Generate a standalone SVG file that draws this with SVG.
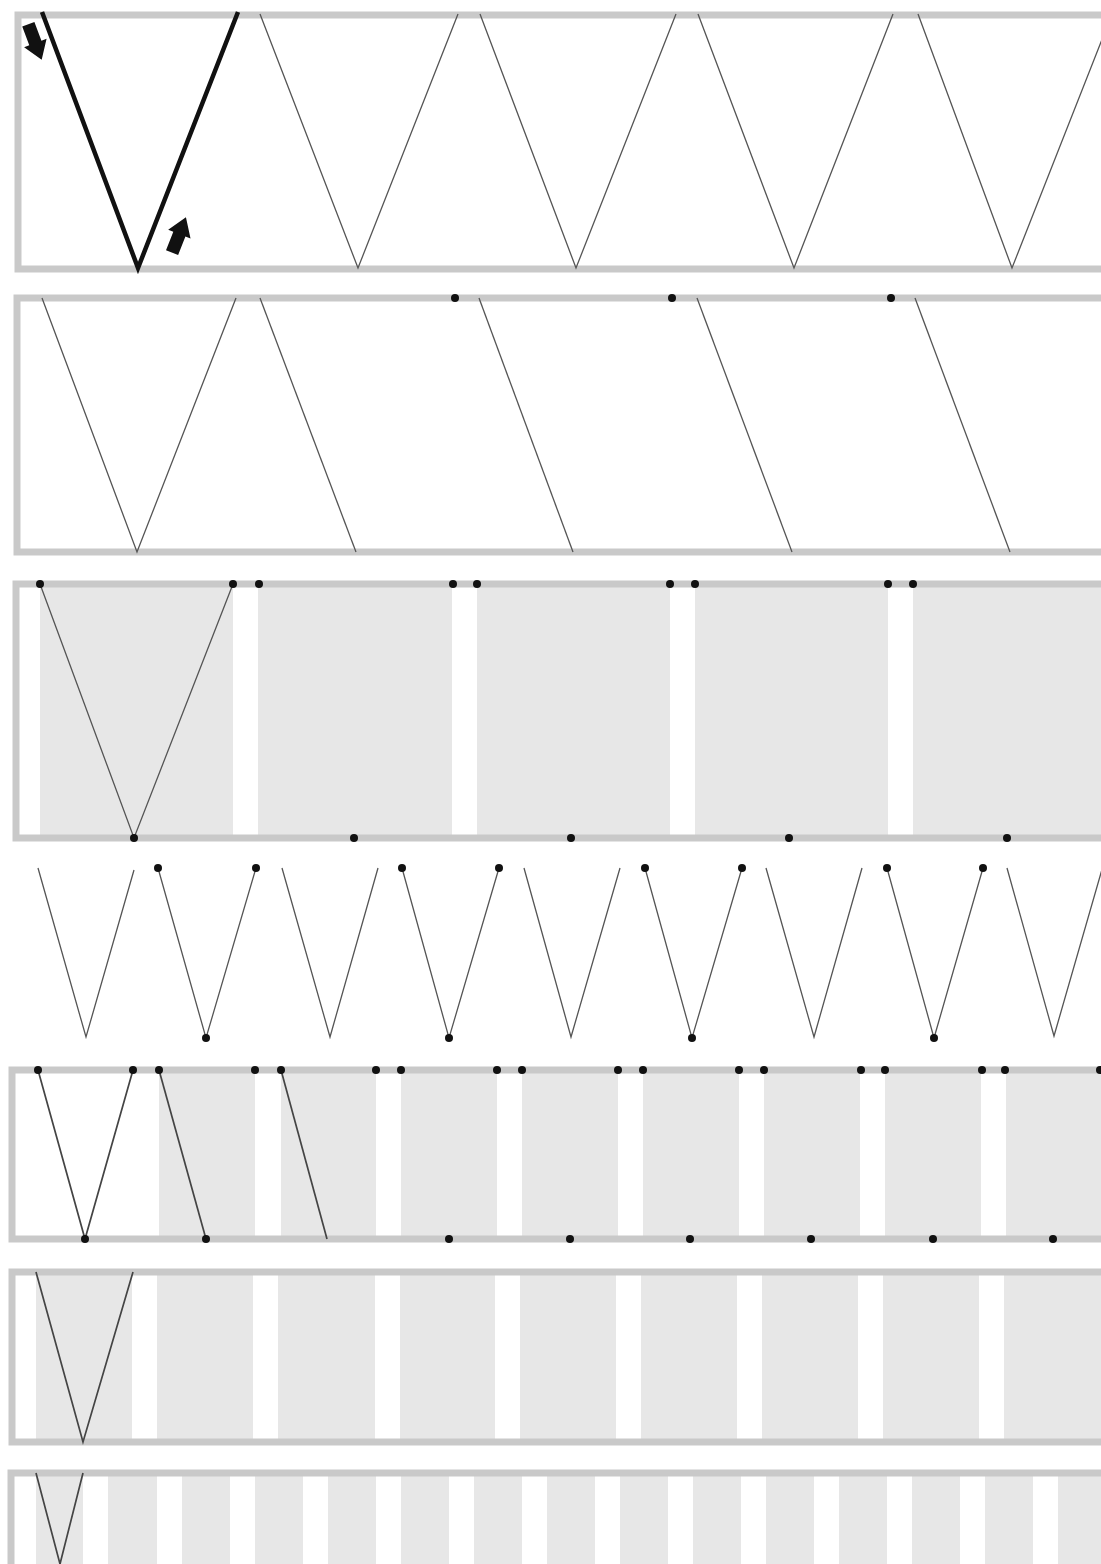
<svg xmlns="http://www.w3.org/2000/svg" width="1101" height="1564" viewBox="0 0 1101 1564">
<style>
.frame{fill:none;stroke:#c9c9c9;stroke-width:7}
.col{fill:#e7e7e7}
.thin{fill:none;stroke:#555;stroke-width:1.3;stroke-linejoin:miter}
.med{fill:none;stroke:#444;stroke-width:1.7}
.bold{fill:none;stroke:#111;stroke-width:4.5}
.dot{fill:#111}
.arrow{fill:#111}
</style>
<defs>
<polygon id="blockArrow" points="-6.5,-19 6.5,-19 6.5,1 12,1 0,19 -12,1 -6.5,1"/>
</defs>
<rect width="1101" height="1564" fill="#fff"/>

<g id="row1">
<rect class="frame" x="18" y="15" width="1110" height="254"/>
<polyline class="bold" points="42,12 138,268 238,12"/>
<polyline class="thin" points="260,14 358,268 458,14"/>
<polyline class="thin" points="480,14 576,268 676,14"/>
<polyline class="thin" points="698,14 794,268 893,14"/>
<polyline class="thin" points="918,14 1012,268 1112,14"/>
<use href="#blockArrow" class="arrow" transform="translate(35,42) rotate(-20.6)"/>
<use href="#blockArrow" class="arrow" transform="translate(179,235) rotate(-158.6)"/>
</g>

<g id="row2">
<rect class="frame" x="17" y="298" width="1110" height="254"/>
<polyline class="thin" points="42,298 137,552 236,298"/>
<line class="thin" x1="260" y1="298" x2="356" y2="552"/>
<line class="thin" x1="479" y1="298" x2="573" y2="552"/>
<line class="thin" x1="697" y1="298" x2="792" y2="552"/>
<line class="thin" x1="915" y1="298" x2="1010" y2="552"/>
<circle class="dot" cx="455" cy="298" r="4"/>
<circle class="dot" cx="672" cy="298" r="4"/>
<circle class="dot" cx="891" cy="298" r="4"/>
</g>

<g id="row3">
<rect class="col" x="40" y="584" width="193" height="254"/>
<rect class="col" x="258" y="584" width="194" height="254"/>
<rect class="col" x="477" y="584" width="193" height="254"/>
<rect class="col" x="695" y="584" width="193" height="254"/>
<rect class="col" x="913" y="584" width="200" height="254"/>
<rect class="frame" x="16" y="584" width="1110" height="254"/>
<polyline class="thin" points="40,584 134,838 233,584"/>
<circle class="dot" cx="40" cy="584" r="4"/>
<circle class="dot" cx="233" cy="584" r="4"/>
<circle class="dot" cx="259" cy="584" r="4"/>
<circle class="dot" cx="453" cy="584" r="4"/>
<circle class="dot" cx="477" cy="584" r="4"/>
<circle class="dot" cx="670" cy="584" r="4"/>
<circle class="dot" cx="695" cy="584" r="4"/>
<circle class="dot" cx="888" cy="584" r="4"/>
<circle class="dot" cx="913" cy="584" r="4"/>
<circle class="dot" cx="134" cy="838" r="4"/>
<circle class="dot" cx="354" cy="838" r="4"/>
<circle class="dot" cx="571" cy="838" r="4"/>
<circle class="dot" cx="789" cy="838" r="4"/>
<circle class="dot" cx="1007" cy="838" r="4"/>
</g>

<g id="row4">
<polyline class="thin" points="38,868 86,1037 134,870"/>
<polyline class="thin" points="158,868 206,1038 256,868"/>
<polyline class="thin" points="282,868 330,1037 378,868"/>
<polyline class="thin" points="402,868 449,1038 499,868"/>
<polyline class="thin" points="524,868 571,1037 620,868"/>
<polyline class="thin" points="645,868 692,1038 742,868"/>
<polyline class="thin" points="766,868 814,1037 862,868"/>
<polyline class="thin" points="887,868 934,1038 983,868"/>
<polyline class="thin" points="1007,868 1054,1036 1103,866"/>
<circle class="dot" cx="158" cy="868" r="4"/>
<circle class="dot" cx="206" cy="1038" r="4"/>
<circle class="dot" cx="256" cy="868" r="4"/>
<circle class="dot" cx="402" cy="868" r="4"/>
<circle class="dot" cx="449" cy="1038" r="4"/>
<circle class="dot" cx="499" cy="868" r="4"/>
<circle class="dot" cx="645" cy="868" r="4"/>
<circle class="dot" cx="692" cy="1038" r="4"/>
<circle class="dot" cx="742" cy="868" r="4"/>
<circle class="dot" cx="887" cy="868" r="4"/>
<circle class="dot" cx="934" cy="1038" r="4"/>
<circle class="dot" cx="983" cy="868" r="4"/>
</g>

<g id="row5">
<rect class="col" x="159" y="1070" width="96" height="169"/>
<rect class="col" x="281" y="1070" width="95" height="169"/>
<rect class="col" x="401" y="1070" width="96" height="169"/>
<rect class="col" x="522" y="1070" width="96" height="169"/>
<rect class="col" x="643" y="1070" width="96" height="169"/>
<rect class="col" x="764" y="1070" width="96" height="169"/>
<rect class="col" x="885" y="1070" width="96" height="169"/>
<rect class="col" x="1006" y="1070" width="100" height="169"/>
<rect class="frame" x="12" y="1070" width="1110" height="169"/>
<polyline class="med" points="38,1070 85,1239 133,1070"/>
<line class="med" x1="159" y1="1070" x2="206" y2="1239"/>
<line class="med" x1="281" y1="1070" x2="327" y2="1239"/>
<circle class="dot" cx="38" cy="1070" r="4"/>
<circle class="dot" cx="133" cy="1070" r="4"/>
<circle class="dot" cx="159" cy="1070" r="4"/>
<circle class="dot" cx="255" cy="1070" r="4"/>
<circle class="dot" cx="281" cy="1070" r="4"/>
<circle class="dot" cx="376" cy="1070" r="4"/>
<circle class="dot" cx="401" cy="1070" r="4"/>
<circle class="dot" cx="497" cy="1070" r="4"/>
<circle class="dot" cx="522" cy="1070" r="4"/>
<circle class="dot" cx="618" cy="1070" r="4"/>
<circle class="dot" cx="643" cy="1070" r="4"/>
<circle class="dot" cx="739" cy="1070" r="4"/>
<circle class="dot" cx="764" cy="1070" r="4"/>
<circle class="dot" cx="861" cy="1070" r="4"/>
<circle class="dot" cx="885" cy="1070" r="4"/>
<circle class="dot" cx="982" cy="1070" r="4"/>
<circle class="dot" cx="1005" cy="1070" r="4"/>
<circle class="dot" cx="1100" cy="1070" r="4"/>
<circle class="dot" cx="85" cy="1239" r="4"/>
<circle class="dot" cx="206" cy="1239" r="4"/>
<circle class="dot" cx="449" cy="1239" r="4"/>
<circle class="dot" cx="570" cy="1239" r="4"/>
<circle class="dot" cx="690" cy="1239" r="4"/>
<circle class="dot" cx="811" cy="1239" r="4"/>
<circle class="dot" cx="933" cy="1239" r="4"/>
<circle class="dot" cx="1053" cy="1239" r="4"/>
</g>

<g id="row6">
<rect class="col" x="36" y="1272" width="96" height="170"/>
<rect class="col" x="157" y="1272" width="96" height="170"/>
<rect class="col" x="278" y="1272" width="97" height="170"/>
<rect class="col" x="400" y="1272" width="95" height="170"/>
<rect class="col" x="520" y="1272" width="96" height="170"/>
<rect class="col" x="641" y="1272" width="96" height="170"/>
<rect class="col" x="762" y="1272" width="96" height="170"/>
<rect class="col" x="883" y="1272" width="96" height="170"/>
<rect class="col" x="1004" y="1272" width="100" height="170"/>
<rect class="frame" x="12" y="1272" width="1110" height="170"/>
<polyline class="med" points="36,1272 83,1442 133,1272"/>
</g>

<g id="row7">
<rect class="col" x="36" y="1473" width="47" height="100"/>
<rect class="col" x="108" y="1473" width="49" height="100"/>
<rect class="col" x="182" y="1473" width="48" height="100"/>
<rect class="col" x="255" y="1473" width="48" height="100"/>
<rect class="col" x="328" y="1473" width="48" height="100"/>
<rect class="col" x="401" y="1473" width="48" height="100"/>
<rect class="col" x="474" y="1473" width="48" height="100"/>
<rect class="col" x="547" y="1473" width="48" height="100"/>
<rect class="col" x="620" y="1473" width="48" height="100"/>
<rect class="col" x="693" y="1473" width="48" height="100"/>
<rect class="col" x="766" y="1473" width="48" height="100"/>
<rect class="col" x="839" y="1473" width="48" height="100"/>
<rect class="col" x="912" y="1473" width="48" height="100"/>
<rect class="col" x="985" y="1473" width="48" height="100"/>
<rect class="col" x="1058" y="1473" width="48" height="100"/>
<rect class="frame" x="11" y="1473" width="1110" height="120"/>
<polyline class="med" points="36,1473 60,1564 83,1473"/>
</g>

<g id="connectors"></g>
</svg>
